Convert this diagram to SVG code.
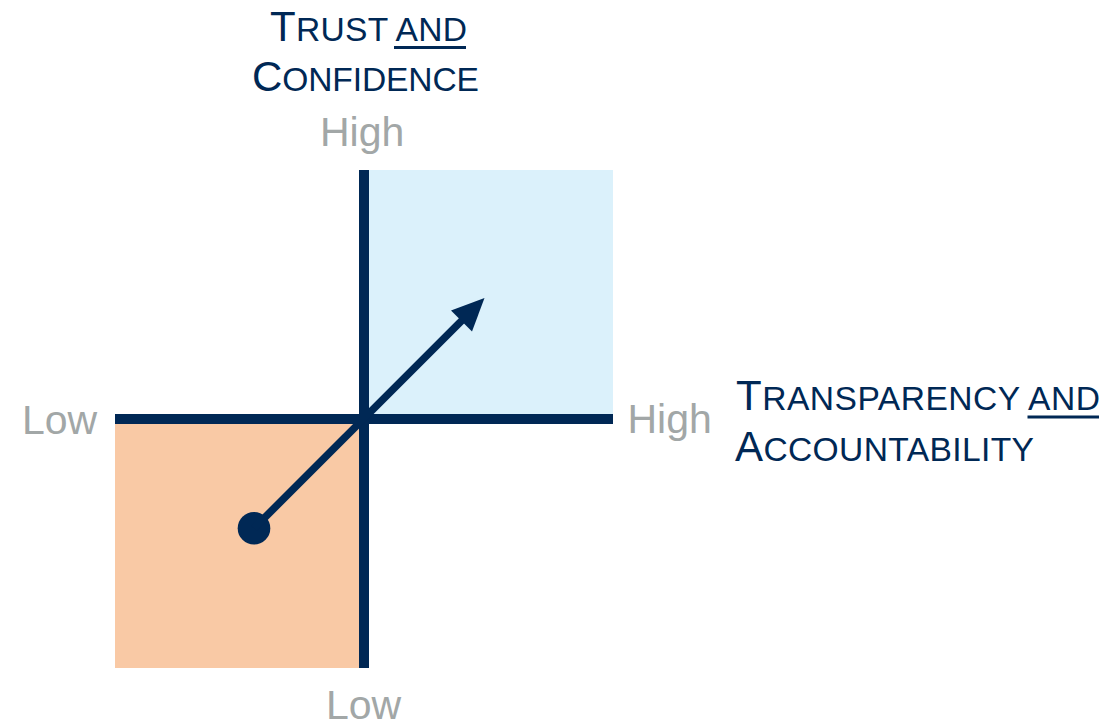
<svg xmlns="http://www.w3.org/2000/svg" width="1114" height="725" viewBox="0 0 1114 725">
  <style>
    .title { font-family: "Liberation Sans", Arial, sans-serif; fill: #002855; font-size: 42px; }
    .sc { font-size: 33.6px; }
    .tick { font-family: "Liberation Sans", Arial, sans-serif; fill: #A2A7A7; font-size: 41px; }
    .axis { fill: #002855; }
    .ul { stroke: #002855; stroke-width: 3; }
  </style>
  <rect width="1114" height="725" fill="#FFFFFF"/>
  <g id="quadrant-high">
    <rect x="369" y="170" width="244" height="244" fill="#DBF1FB"/>
  </g>
  <g id="quadrant-low">
    <rect x="115" y="424" width="244" height="244" fill="#F9C9A5"/>
  </g>
  <g id="axes">
    <rect class="axis" x="359" y="170" width="10" height="498"/>
    <rect class="axis" x="115" y="414" width="498" height="10"/>
  </g>
  <g id="y-axis-title">
    <text class="title" x="270" y="41" textLength="197" lengthAdjust="spacing">T<tspan class="sc">RUST AND</tspan></text>
    <line class="ul" x1="394" y1="47.5" x2="466" y2="47.5"/>
    <text class="title" x="252" y="91" textLength="227" lengthAdjust="spacing">C<tspan class="sc">ONFIDENCE</tspan></text>
  </g>
  <g id="x-axis-title">
    <text class="title" x="736" y="410" textLength="364" lengthAdjust="spacing">T<tspan class="sc">RANSPARENCY AND</tspan></text>
    <line class="ul" x1="1027.5" y1="417" x2="1099" y2="417"/>
    <text class="title" x="735" y="461" textLength="299" lengthAdjust="spacing">A<tspan class="sc">CCOUNTABILITY</tspan></text>
  </g>
  <g id="tick-labels">
    <text class="tick" x="320" y="146">High</text>
    <text class="tick" x="326" y="719">Low</text>
    <text class="tick" x="22" y="434">Low</text>
    <text class="tick" x="627.5" y="433">High</text>
  </g>
  <g id="connectors">
    <circle cx="254" cy="528.3" r="16.3" fill="#002855"/>
    <line x1="254" y1="528.3" x2="466" y2="316.3" stroke="#002855" stroke-width="7.5"/>
    <polygon points="484.5,298 451,310.5 472,331.5" fill="#002855"/>
  </g>
</svg>
